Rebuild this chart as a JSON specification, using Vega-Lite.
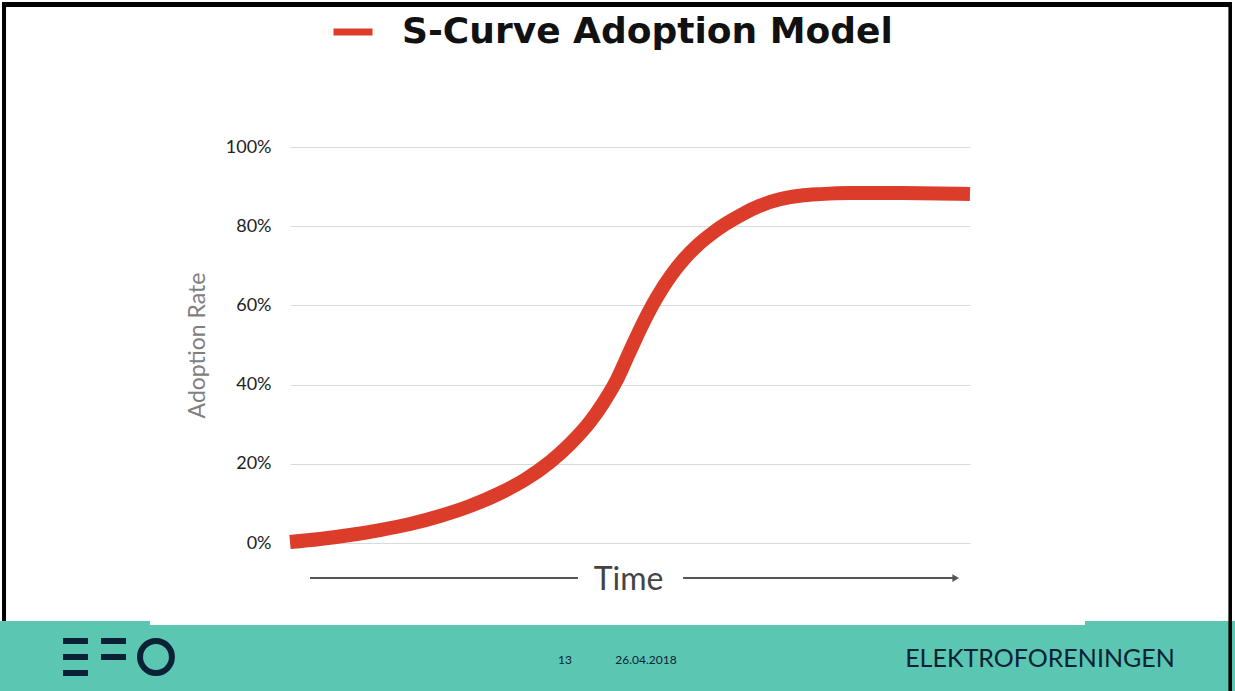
{
  "$schema": "https://vega.github.io/schema/vega-lite/v6.json",
  "width": 680,
  "height": 396,
  "autosize": "none",
  "padding": {"left": 290, "top": 147, "right": 265, "bottom": 148},
  "background": "white",
  "config": {"view": {"stroke": null}, "font": "Lato"},
  "datasets": {
    "curve": [
      {"t": 0, "v": 0.0025, "series": "S-Curve Adoption Model"},
      {"t": 4.41, "v": 0.0101, "series": "S-Curve Adoption Model"},
      {"t": 8.82, "v": 0.0202, "series": "S-Curve Adoption Model"},
      {"t": 13.24, "v": 0.0328, "series": "S-Curve Adoption Model"},
      {"t": 17.65, "v": 0.048, "series": "S-Curve Adoption Model"},
      {"t": 22.06, "v": 0.0682, "series": "S-Curve Adoption Model"},
      {"t": 26.47, "v": 0.0934, "series": "S-Curve Adoption Model"},
      {"t": 30.88, "v": 0.126, "series": "S-Curve Adoption Model"},
      {"t": 34.56, "v": 0.16, "series": "S-Curve Adoption Model"},
      {"t": 38.24, "v": 0.2045, "series": "S-Curve Adoption Model"},
      {"t": 41.18, "v": 0.25, "series": "S-Curve Adoption Model"},
      {"t": 44.12, "v": 0.306, "series": "S-Curve Adoption Model"},
      {"t": 46.0, "v": 0.352, "series": "S-Curve Adoption Model"},
      {"t": 48.0, "v": 0.41, "series": "S-Curve Adoption Model"},
      {"t": 50.0, "v": 0.485, "series": "S-Curve Adoption Model"},
      {"t": 52.0, "v": 0.558, "series": "S-Curve Adoption Model"},
      {"t": 54.0, "v": 0.622, "series": "S-Curve Adoption Model"},
      {"t": 56.0, "v": 0.675, "series": "S-Curve Adoption Model"},
      {"t": 58.0, "v": 0.718, "series": "S-Curve Adoption Model"},
      {"t": 60.0, "v": 0.753, "series": "S-Curve Adoption Model"},
      {"t": 62.0, "v": 0.781, "series": "S-Curve Adoption Model"},
      {"t": 64.0, "v": 0.805, "series": "S-Curve Adoption Model"},
      {"t": 66.5, "v": 0.83, "series": "S-Curve Adoption Model"},
      {"t": 69.0, "v": 0.851, "series": "S-Curve Adoption Model"},
      {"t": 72.0, "v": 0.868, "series": "S-Curve Adoption Model"},
      {"t": 75.0, "v": 0.877, "series": "S-Curve Adoption Model"},
      {"t": 78.0, "v": 0.881, "series": "S-Curve Adoption Model"},
      {"t": 82.35, "v": 0.8838, "series": "S-Curve Adoption Model"},
      {"t": 89.71, "v": 0.8838, "series": "S-Curve Adoption Model"},
      {"t": 100, "v": 0.8813, "series": "S-Curve Adoption Model"}
    ],
    "arrow": [
      {"t": 2.94, "t2": 42.35, "v": -0.0884},
      {"t": 57.8, "t2": 97.5, "v": -0.0884}
    ],
    "arrowhead": [{"t": 97.9, "v": -0.0884}],
    "footer": [{"t": -42.65, "t2": 138.97, "v": -0.197, "v2": -0.374}],
    "notch": [{"t": -20.59, "t2": 116.91, "v": -0.16, "v2": -0.207}],
    "border": [
      {"t": -42.35, "t2": 138.53, "v": 1.3662, "v2": 1.3535},
      {"t": -42.35, "t2": -41.76, "v": 1.3662, "v2": -0.197},
      {"t": 138.0, "t2": 138.53, "v": 1.3662, "v2": -0.374}
    ],
    "logobars": [
      {"t": -33.38, "t2": -29.71, "v": -0.2399, "v2": -0.2551},
      {"t": -33.38, "t2": -29.71, "v": -0.2803, "v2": -0.2955},
      {"t": -33.38, "t2": -29.71, "v": -0.3207, "v2": -0.3359},
      {"t": -27.79, "t2": -24.12, "v": -0.2399, "v2": -0.2551},
      {"t": -27.79, "t2": -24.12, "v": -0.2803, "v2": -0.2955}
    ],
    "logoring": [{"t": -19.71, "v": -0.2879}],
    "pageinfo": [
      {"t": 40.44, "v": -0.2955, "label": "13"},
      {"t": 52.35, "v": -0.2955, "label": "26.04.2018"}
    ],
    "brand": [{"t": 110.29, "v": -0.293, "label": "ELEKTROFORENINGEN"}]
  },
  "layer": [
    {
      "data": {"name": "curve"},
      "mark": {"type": "line", "strokeWidth": 14, "interpolate": "monotone", "strokeCap": "butt"},
      "encoding": {
        "x": {
          "field": "t", "type": "quantitative",
          "scale": {"domain": [0, 100], "nice": false, "zero": false},
          "axis": {"title": "Time", "domain": false, "ticks": false, "labels": false, "grid": false,
                   "titleFont": "Lato", "titleFontSize": 32, "titleFontWeight": "normal", "titleColor": "#444444",
                   "titleBaseline": "alphabetic", "titleY": 46, "titleX": 338}
        },
        "y": {
          "field": "v", "type": "quantitative",
          "scale": {"domain": [0, 1], "nice": false, "zero": false},
          "axis": {"title": "Adoption Rate", "values": [0, 0.2, 0.4, 0.6, 0.8, 1], "format": ".0%",
                   "domain": false, "ticks": false, "grid": true, "gridColor": "#dadada", "gridWidth": 1,
                   "labelFont": "Lato", "labelFontSize": 18, "labelColor": "#222222", "labelPadding": 19,
                   "titleFont": "Lato", "titleFontSize": 23, "titleFontWeight": "normal", "titleColor": "#808080",
                   "titleAngle": 270, "titleX": -93, "titleY": 198, "titleBaseline": "middle", "titleAlign": "center"}
        },
        "color": {
          "field": "series", "type": "nominal",
          "scale": {"domain": ["S-Curve Adoption Model"], "range": ["#dc3d2a"]},
          "legend": {"title": null, "orient": "none", "legendX": 40, "legendY": -138,
                     "symbolType": "stroke", "symbolSize": 1521, "symbolStrokeWidth": 7,
                     "labelFont": "DejaVu Sans", "labelFontWeight": "bold", "labelFontSize": 36, "labelColor": "#111111",
                     "labelOffset": 26, "labelLimit": 800}
        }
      }
    },
    {
      "data": {"name": "footer"},
      "mark": {"type": "rect", "color": "#5bc7b2"},
      "encoding": {
        "x": {"field": "t", "type": "quantitative"},
        "x2": {"field": "t2"},
        "y": {"field": "v", "type": "quantitative"},
        "y2": {"field": "v2"}
      }
    },
    {
      "data": {"name": "notch"},
      "mark": {"type": "rect", "color": "white"},
      "encoding": {
        "x": {"field": "t", "type": "quantitative"},
        "x2": {"field": "t2"},
        "y": {"field": "v", "type": "quantitative"},
        "y2": {"field": "v2"}
      }
    },
    {
      "data": {"name": "border"},
      "mark": {"type": "rect", "color": "#000000"},
      "encoding": {
        "x": {"field": "t", "type": "quantitative"},
        "x2": {"field": "t2"},
        "y": {"field": "v", "type": "quantitative"},
        "y2": {"field": "v2"}
      }
    },
    {
      "data": {"name": "logobars"},
      "mark": {"type": "rect", "color": "#0b2236"},
      "encoding": {
        "x": {"field": "t", "type": "quantitative"},
        "x2": {"field": "t2"},
        "y": {"field": "v", "type": "quantitative"},
        "y2": {"field": "v2"}
      }
    },
    {
      "data": {"name": "logoring"},
      "mark": {"type": "point", "shape": "circle", "filled": false, "stroke": "#0b2236", "strokeWidth": 6, "size": 1018, "opacity": 1},
      "encoding": {
        "x": {"field": "t", "type": "quantitative"},
        "y": {"field": "v", "type": "quantitative"}
      }
    },
    {
      "data": {"name": "pageinfo"},
      "mark": {"type": "text", "font": "Lato", "fontSize": 12, "color": "#0b2236", "align": "center", "baseline": "middle"},
      "encoding": {
        "x": {"field": "t", "type": "quantitative"},
        "y": {"field": "v", "type": "quantitative"},
        "text": {"field": "label"}
      }
    },
    {
      "data": {"name": "brand"},
      "mark": {"type": "text", "font": "Lato", "fontSize": 25, "color": "#0b2236", "align": "center", "baseline": "middle"},
      "encoding": {
        "x": {"field": "t", "type": "quantitative"},
        "y": {"field": "v", "type": "quantitative"},
        "text": {"field": "label"}
      }
    },
    {
      "data": {"name": "arrow"},
      "mark": {"type": "rule", "color": "#555555", "strokeWidth": 2},
      "encoding": {
        "x": {"field": "t", "type": "quantitative"},
        "x2": {"field": "t2"},
        "y": {"field": "v", "type": "quantitative"}
      }
    },
    {
      "data": {"name": "arrowhead"},
      "mark": {"type": "point", "shape": "triangle-right", "filled": true, "color": "#555555", "size": 60, "opacity": 1},
      "encoding": {
        "x": {"field": "t", "type": "quantitative"},
        "y": {"field": "v", "type": "quantitative"}
      }
    }
  ]
}
